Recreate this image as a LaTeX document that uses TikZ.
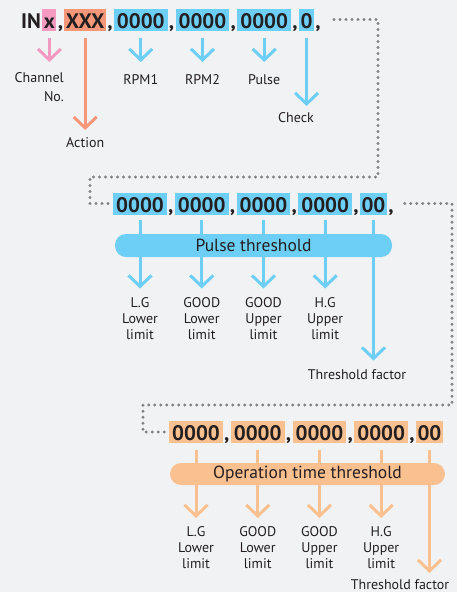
\documentclass[tikz,border=0pt]{standalone}
\usepackage{fontspec}
\setmainfont{PT Sans}
\usetikzlibrary{positioning,calc,arrows.meta}
\pgfdeclarelayer{bglayer}
\pgfdeclarelayer{edgelayer}
\pgfdeclarelayer{nodelayer}
\pgfsetlayers{bglayer,edgelayer,nodelayer,main}
\definecolor{bgc}{HTML}{F1F2F4}
\definecolor{pinkc}{HTML}{F49AC1}
\definecolor{salmonc}{HTML}{F7977A}
\definecolor{bluec}{HTML}{6DCFF6}
\definecolor{peachc}{HTML}{FBC08F}
\definecolor{txtc}{HTML}{231F20}
\definecolor{dotc}{HTML}{808285}
\tikzset{
  code/.style={font=\bfseries\fontsize{21}{21}\selectfont, text=txtc, inner xsep=1pt, inner ysep=0pt, text height=19.5pt, text depth=2.5pt, anchor=west},
  field/.style={code, inner xsep=3pt},
  short/.style={code, inner xsep=1.5pt},
  lbl/.style={font=\fontsize{14}{16}\selectfont, text=txtc, inner sep=0pt, align=center, anchor=north},
  bar/.style={font=\fontsize{17.5}{17.5}\selectfont, text=txtc, inner sep=0pt, rounded corners=11pt},
  arr/.style={line width=3pt, -{Straight Barb[length=11pt,width=23pt]}, shorten <=7pt, shorten >=9pt},
  dots/.style={dotc, line width=3.2pt, line cap=round, dash pattern=on 0pt off 6pt}
}
\begin{document}
\begin{tikzpicture}[x=1pt,y=-1pt]
  \begin{pgfonlayer}{bglayer}
    \fill[bgc] (0,0) rectangle (457,592);
  \end{pgfonlayer}
  \useasboundingbox (0,0) rectangle (457,592);
  \begin{pgfonlayer}{nodelayer}
    % command line
    \node [code] (in) at (20,19.5) {IN};
    \node [short, fill=pinkc, right=0pt of in] (f0) {x};
    \node [code, right=0pt of f0] (k1) {,};
    \node [short, fill=salmonc, right=0pt of k1] (f1) {XXX};
    \node [code, right=0pt of f1] (k2) {,};
    \node [field, fill=bluec, right=0pt of k2] (f2) {0000};
    \node [code, right=0pt of f2] (k3) {,};
    \node [field, fill=bluec, right=0pt of k3] (f3) {0000};
    \node [code, right=0pt of f3] (k4) {,};
    \node [field, fill=bluec, right=0pt of k4] (f4) {0000};
    \node [code, right=0pt of f4] (k5) {,};
    \node [short, fill=bluec, right=0pt of k5] (f5) {0};
    \node [code, right=0pt of f5] (k6) {,};
    \node [lbl, anchor=north east, align=right, font=\fontsize{14}{19}\selectfont] (chl) at (64,72.5) {Channel\\No.};
    \node [lbl] (act) at (f1 |- 0,137.5) {Action};
    \node [lbl] (rpm1) at (f2 |- 0,74.5) {RPM1};
    \node [lbl] (rpm2) at (f3 |- 0,74.5) {RPM2};
    \node [lbl] (pls) at (f4 |- 0,74.5) {Pulse};
    \node [lbl] (chk) at (296,112.5) {Check};
    % pulse threshold
    \node [field, fill=bluec] (g1) at (113,203.5) {0000};
    \node [code, right=0pt of g1] (m1) {,};
    \node [field, fill=bluec, right=0pt of m1] (g2) {0000};
    \node [code, right=0pt of g2] (m2) {,};
    \node [field, fill=bluec, right=0pt of m2] (g3) {0000};
    \node [code, right=0pt of g3] (m3) {,};
    \node [field, fill=bluec, right=0pt of m3] (g4) {0000};
    \node [code, right=0pt of g4] (m4) {,};
    \node [short, fill=bluec, right=0pt of m4] (g5) {00};
    \node [code, right=0pt of g5] (m5) {,};
    \node [bar, fill=bluec, minimum width=277pt, minimum height=23pt] (pbar) at (253.5,245.5) {Pulse threshold};
    \node [lbl] (p1) at (g1 |- 0,297.5) {L.G\\Lower\\limit};
    \node [lbl] (p2) at (g2 |- 0,297.5) {GOOD\\Lower\\limit};
    \node [lbl] (p3) at (g3 |- 0,297.5) {GOOD\\Upper\\limit};
    \node [lbl] (p4) at (g4 |- 0,297.5) {H.G\\Upper\\limit};
    \node [lbl] (p5) at (357,369.5) {Threshold factor};
    % operation time threshold
    \node [field, fill=peachc] (h1) at (169,432) {0000};
    \node [code, right=0pt of h1] (n1) {,};
    \node [field, fill=peachc, right=0pt of n1] (h2) {0000};
    \node [code, right=0pt of h2] (n2) {,};
    \node [field, fill=peachc, right=0pt of n2] (h3) {0000};
    \node [code, right=0pt of h3] (n3) {,};
    \node [field, fill=peachc, right=0pt of n3] (h4) {0000};
    \node [code, right=0pt of h4] (n4) {,};
    \node [short, fill=peachc, right=0pt of n4] (h5) {00};
    \node [bar, fill=peachc, minimum width=275pt, minimum height=22pt] (obar) at (307.5,474) {Operation time threshold};
    \node [lbl] (o1) at (h1 |- 0,526.5) {L.G\\Lower\\limit};
    \node [lbl] (o2) at (h2 |- 0,526.5) {GOOD\\Lower\\limit};
    \node [lbl] (o3) at (h3 |- 0,526.5) {GOOD\\Upper\\limit};
    \node [lbl] (o4) at (h4 |- 0,526.5) {H.G\\Upper\\limit};
    \node [lbl] (o5) at (400,579.5) {Threshold factor};
  \end{pgfonlayer}
  \begin{pgfonlayer}{edgelayer}
    \draw [arr, pinkc, shorten >=10.5pt] (f0.south) to (f0.south |- chl.north);
    \draw [arr, salmonc, shorten >=7.5pt] (f1.south) to (act.north);
    \draw [arr, bluec, shorten >=12.5pt] (f2.south) to (rpm1.north);
    \draw [arr, bluec, shorten >=12.5pt] (f3.south) to (rpm2.north);
    \draw [arr, bluec, shorten >=12.5pt] (f4.south) to (pls.north);
    \draw [arr, bluec, shorten >=6.5pt] (f5.south) to (f5.south |- chk.north);
    \draw [arr, bluec, shorten <=5pt] (g1.south) to (p1.north);
    \draw [arr, bluec, shorten <=5pt] (g2.south) to (p2.north);
    \draw [arr, bluec, shorten <=5pt] (g3.south) to (p3.north);
    \draw [arr, bluec, shorten <=5pt] (g4.south) to (p4.north);
    \draw [arr, bluec, shorten <=5pt] (g5.south) to (g5.south |- p5.north);
    \draw [arr, peachc, shorten >=8.5pt] (h1.south) to (o1.north);
    \draw [arr, peachc, shorten >=8.5pt] (h2.south) to (o2.north);
    \draw [arr, peachc, shorten >=8.5pt] (h3.south) to (o3.north);
    \draw [arr, peachc, shorten >=8.5pt] (h4.south) to (o4.north);
    \draw [arr, peachc, shorten >=6.5pt] (h5.south) to (h5.south |- o5.north);
    \draw [dots] ([xshift=12pt]k6.east) -| (378,177) -- (90,177) |- ([xshift=-5pt]g1.west);
    \draw [dots] ([xshift=10pt]m5.east) -| (452,405) -- (143,405) |- ([xshift=-4pt]h1.west);
  \end{pgfonlayer}
\end{tikzpicture}
\end{document}
